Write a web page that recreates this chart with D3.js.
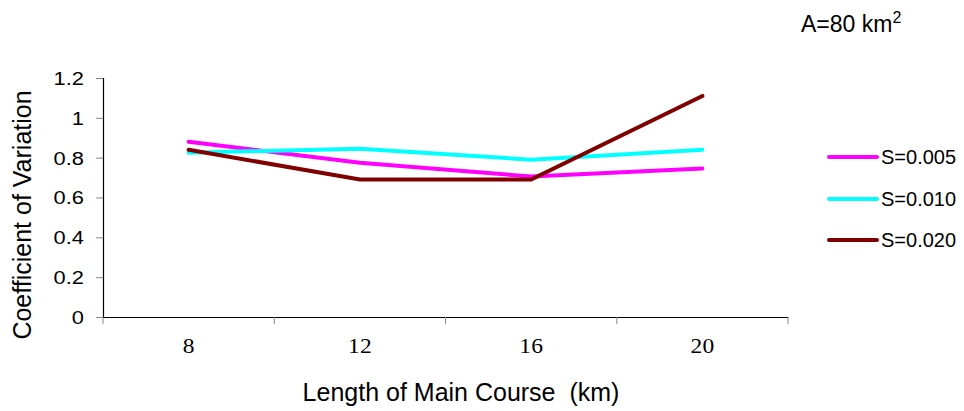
<!DOCTYPE html>
<html><head><meta charset="utf-8">
<script src="https://cdn.jsdelivr.net/npm/d3@7"></script>
<style>body{margin:0;background:#fff}svg{display:block}</style>
</head><body>
<script>
const categories = ["8", "12", "16", "20"];
const seriesNames = ["S=0.005", "S=0.010", "S=0.020"];
const s005 = [0.88, 0.775, 0.705, 0.745];
const s010 = [0.825, 0.845, 0.79, 0.84];
const s020 = [0.84, 0.69, 0.69, 1.11];
const yTicks = [0, 0.2, 0.4, 0.6, 0.8, 1, 1.2];
const colors = ["#FF00FF", "#00FFFF", "#800000"];
const seriesValues = [s005, s010, s020];

(function () {
const W = 964, H = 411;
const svg = d3.select("body").append("svg").attr("width", W).attr("height", H);
const mLeft = 103, mRight = 788, mTop = 78, mBottom = 317;
const sans = "Liberation Sans, Arial, sans-serif";
const serif = "Liberation Serif, Times New Roman, serif";

const x = d3.scaleBand().domain(categories).range([mLeft, mRight]);
const y = d3.scaleLinear().domain([0, 1.2]).range([mBottom, mTop]);

// Y axis
const ya = svg.append("g").attr("transform", `translate(${mLeft},0)`)
  .call(d3.axisLeft(y).tickValues(yTicks).tickSize(7).tickFormat(""));
ya.select(".domain").attr("stroke", "#000").attr("stroke-width", 1.2);
ya.selectAll(".tick line").attr("stroke", "#888");
ya.selectAll(".tick text").remove();
svg.append("g").selectAll("text").data(yTicks).join("text")
  .attr("transform", d => `translate(${mLeft - 19},${y(d)}) scale(1.15,1)`).attr("dy", "0.36em")
  .attr("text-anchor", "end").attr("font-family", sans).attr("font-size", 19).attr("fill", "#000")
  .text(d => d3.format("~g")(d));

// X axis
const xa = svg.append("g").attr("transform", `translate(0,${mBottom})`)
  .call(d3.axisBottom(x).tickSize(0).tickFormat("").tickSizeOuter(0));
xa.select(".domain").attr("stroke", "#000").attr("stroke-width", 1.2);
xa.selectAll(".tick text").remove();
svg.append("g").selectAll("text").data(categories).join("text")
  .attr("transform", d => `translate(${x(d) + x.bandwidth() / 2},${mBottom + 36}) scale(1.12,1)`)
  .attr("text-anchor", "middle").attr("font-family", serif).attr("font-size", 21).attr("fill", "#000")
  .text(d => d);
// band boundary ticks
const bounds = categories.map(c => x(c)).concat([x(categories[categories.length-1]) + x.bandwidth()]);
svg.append("g").selectAll("line").data(bounds).join("line")
  .attr("x1", d => d).attr("x2", d => d).attr("y1", mBottom).attr("y2", mBottom + 7)
  .attr("stroke", "#888");

// lines
const line = d3.line().x((d, i) => x(categories[i]) + x.bandwidth() / 2).y(d => y(d));
seriesValues.forEach((vals, k) => {
  svg.append("path").datum(vals).attr("d", line)
    .attr("fill", "none").attr("stroke", colors[k]).attr("stroke-width", 4)
    .attr("stroke-linejoin", "miter").attr("stroke-linecap", "round");
});

// Legend
const legY = [157, 199, 240];
seriesNames.forEach((n, k) => {
  svg.append("line").attr("x1", 829).attr("x2", 877).attr("y1", legY[k]).attr("y2", legY[k])
    .attr("stroke", colors[k]).attr("stroke-width", 4).attr("stroke-linecap", "round");
  svg.append("text").attr("x", 881).attr("y", legY[k] + 7).text(n)
    .attr("font-family", sans).attr("font-size", 20).attr("fill", "#000");
});

// Axis titles
svg.append("text").attr("x", 461).attr("y", 401).attr("text-anchor", "middle")
  .attr("font-family", sans).attr("font-size", 25).attr("fill", "#000")
  .style("white-space", "pre")
  .text("Length of Main Course  (km)");
svg.append("text").attr("transform", "translate(31,215) rotate(-90)").attr("text-anchor", "middle")
  .attr("font-family", sans).attr("font-size", 25).attr("fill", "#000")
  .text("Coefficient of Variation");

// Title
const t = svg.append("text").attr("x", 801).attr("y", 32)
  .attr("font-family", sans).attr("font-size", 23).attr("fill", "#000");
t.append("tspan").text("A=80 km");
t.append("tspan").attr("dy", -9).attr("font-size", 16).text("2");
})();
</script>
</body></html>
